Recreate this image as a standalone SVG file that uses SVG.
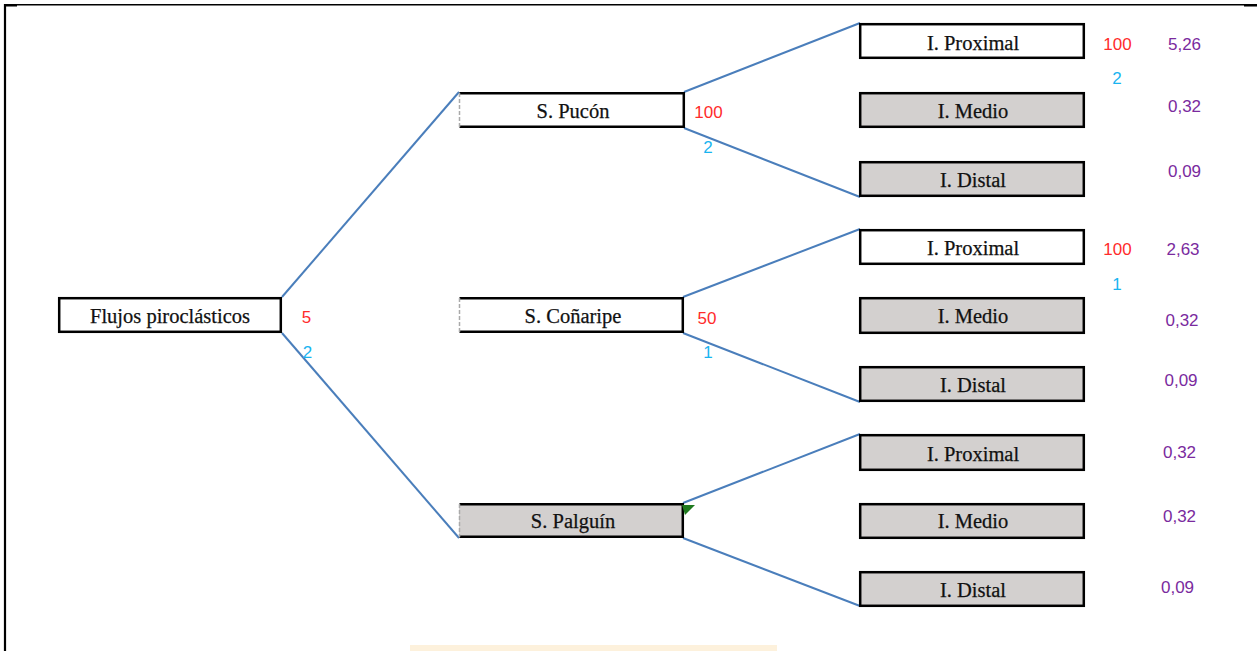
<svg xmlns="http://www.w3.org/2000/svg" width="1257" height="651" viewBox="0 0 1257 651">
<style>
.box{fill:#ffffff;stroke:#000;stroke-width:2.5}
.gray{fill:#d3d0cf}
.lbl{font-family:"Liberation Serif","Times New Roman",serif;font-size:20.5px;fill:#111;text-anchor:middle;stroke:#111;stroke-width:0.25}
.num{font-family:"Liberation Sans",Arial,sans-serif;font-size:17px;text-anchor:middle}
.red{fill:#ff2b2b}
.cyan{fill:#19b4f0}
.pur{fill:#7a2a9e}
.conn line{stroke:#4a7ebb;stroke-width:2}
</style>
<rect width="1257" height="651" fill="#fff"/>
<g id="frame">
<line x1="5" y1="4.7" x2="1257" y2="4.7" stroke="#000" stroke-width="1.6"/>
<line x1="5" y1="4" x2="5" y2="651" stroke="#000" stroke-width="2.2"/>
<rect x="6" y="4.5" width="11" height="2" fill="#000"/>
<rect x="1244" y="4.5" width="13" height="2" fill="#000"/>
<rect x="410" y="645" width="367" height="6" fill="#fdf1dc"/>
</g>
<g id="connectors" class="conn">
<line x1="282" y1="297" x2="459" y2="92"/>
<line x1="282" y1="333" x2="459" y2="538"/>
<line x1="684" y1="92" x2="860" y2="23"/>
<line x1="684" y1="128" x2="860" y2="197"/>
<line x1="683" y1="297" x2="860" y2="229"/>
<line x1="683" y1="333" x2="860" y2="402"/>
<line x1="683" y1="503" x2="860" y2="434"/>
<line x1="683" y1="538" x2="860" y2="606"/>
</g>
<g id="n-flujos">
<rect class="box" x="59.2" y="298.2" width="221.6" height="33.6"/>
<text class="lbl" x="170" y="323">Flujos piroclásticos</text>
<text class="num red" x="306.5" y="323">5</text>
<text class="num cyan" x="307.5" y="358">2</text>
</g>
<g id="n-pucon">
<rect x="459" y="93.2" width="224" height="33.6" fill="#fff"/>
<path d="M459.5,93.2H683.8V126.8H459.5" fill="none" stroke="#000" stroke-width="2.5"/>
<line x1="459.5" y1="93" x2="459.5" y2="127" stroke="#aaa" stroke-width="1.5" stroke-dasharray="4,2"/>
<text class="lbl" x="573" y="118">S. Pucón</text>
<text class="num red" x="708.5" y="118">100</text>
<text class="num cyan" x="708" y="153">2</text>
</g>
<g id="n-conaripe">
<rect x="459" y="298.2" width="224" height="33.6" fill="#fff"/>
<path d="M459.5,298.2H682.8V331.8H459.5" fill="none" stroke="#000" stroke-width="2.5"/>
<line x1="459.5" y1="298" x2="459.5" y2="332" stroke="#aaa" stroke-width="1.5" stroke-dasharray="4,2"/>
<text class="lbl" x="573" y="323">S. Coñaripe</text>
<text class="num red" x="707" y="324">50</text>
<text class="num cyan" x="708" y="358">1</text>
</g>
<g id="n-palguin">
<rect class="gray" x="459" y="504.2" width="224" height="32.6"/>
<path d="M459.5,504.2H682.8V536.8H459.5" fill="none" stroke="#000" stroke-width="2.5"/>
<line x1="459.5" y1="504" x2="459.5" y2="537" stroke="#aaa" stroke-width="1.5" stroke-dasharray="4,2"/>
<polygon points="682,505 695,505 685,515" fill="#1f7a1f"/>
<text class="lbl" x="573" y="528">S. Palguín</text>
</g>
<g id="n-pucon-prox">
<rect class="box" x="860.2" y="24.2" width="223.6" height="33.6"/>
<text class="lbl" x="973" y="50">I. Proximal</text>
<text class="num red" x="1117.5" y="50">100</text>
<text class="num cyan" x="1117" y="84">2</text>
<text class="num pur" x="1184.5" y="50">5,26</text>
</g>
<g id="n-pucon-med">
<rect class="box gray" x="860.2" y="93.2" width="223.6" height="33.6"/>
<text class="lbl" x="973" y="118">I. Medio</text>
<text class="num pur" x="1184.5" y="112">0,32</text>
</g>
<g id="n-pucon-dist">
<rect class="box gray" x="860.2" y="162.2" width="223.6" height="33.6"/>
<text class="lbl" x="973" y="187">I. Distal</text>
<text class="num pur" x="1184.5" y="177">0,09</text>
</g>
<g id="n-con-prox">
<rect class="box" x="860.2" y="230.2" width="223.6" height="33.6"/>
<text class="lbl" x="973" y="255">I. Proximal</text>
<text class="num red" x="1117.5" y="255">100</text>
<text class="num cyan" x="1117" y="290">1</text>
<text class="num pur" x="1183" y="255">2,63</text>
</g>
<g id="n-con-med">
<rect class="box gray" x="860.2" y="298.2" width="223.6" height="34.6"/>
<text class="lbl" x="973" y="323">I. Medio</text>
<text class="num pur" x="1182" y="326">0,32</text>
</g>
<g id="n-con-dist">
<rect class="box gray" x="860.2" y="367.2" width="223.6" height="33.6"/>
<text class="lbl" x="973" y="392">I. Distal</text>
<text class="num pur" x="1181" y="386">0,09</text>
</g>
<g id="n-pal-prox">
<rect class="box gray" x="860.2" y="435.2" width="223.6" height="34.6"/>
<text class="lbl" x="973" y="461">I. Proximal</text>
<text class="num pur" x="1179.5" y="458">0,32</text>
</g>
<g id="n-pal-med">
<rect class="box gray" x="860.2" y="504.2" width="223.6" height="33.6"/>
<text class="lbl" x="973" y="528">I. Medio</text>
<text class="num pur" x="1179.5" y="522">0,32</text>
</g>
<g id="n-pal-dist">
<rect class="box gray" x="860.2" y="572.2" width="223.6" height="33.6"/>
<text class="lbl" x="973" y="597">I. Distal</text>
<text class="num pur" x="1177.5" y="593">0,09</text>
</g>
</svg>
